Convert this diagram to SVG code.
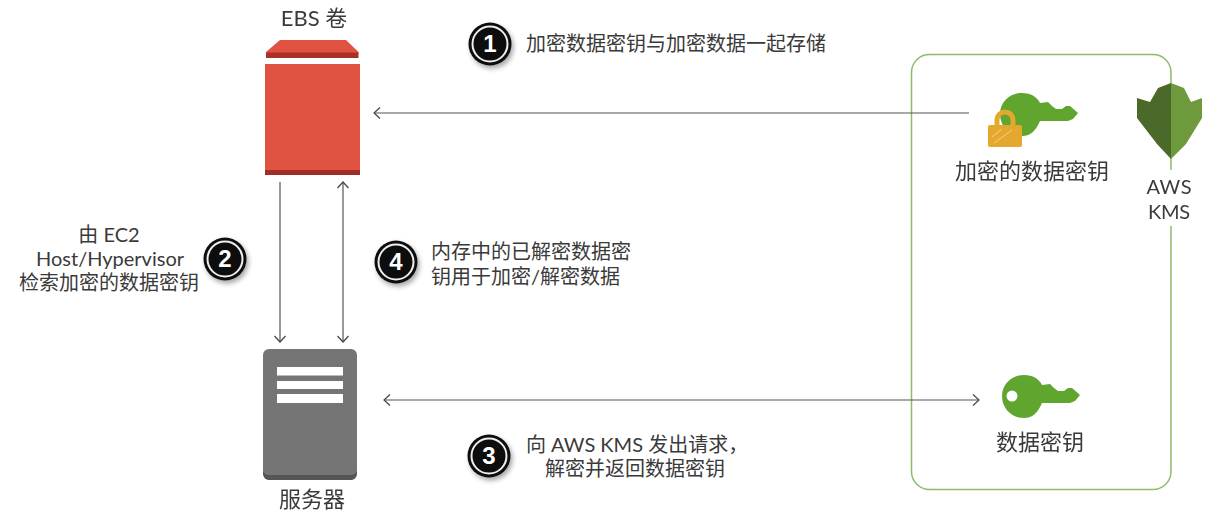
<svg xmlns="http://www.w3.org/2000/svg" width="1231" height="518" viewBox="0 0 1231 518">
<defs>
<marker id="arr" markerWidth="14" markerHeight="14" refX="13" refY="6" orient="auto-start-reverse" markerUnits="userSpaceOnUse"><path d="M7 0.5L13 6L7 11.5" fill="none" stroke="#444" stroke-width="1.2"/></marker>
<filter id="sh" x="-30%" y="-30%" width="170%" height="170%"><feDropShadow dx="2" dy="3" stdDeviation="2.5" flood-color="#000" flood-opacity=".35"/></filter>
<filter id="b" x="-5%" y="-5%" width="110%" height="110%"><feGaussianBlur stdDeviation=".5"/></filter>
<path id="key" d="M0-21C9-21 15-17 18-11L26-12L30-8L34-5L40-5L44-8L48-8L56-1L51 5L46 7L18 7C14 16 9 22 0 22C-13 22-22 12-22 0C-22-12-12-21 0-21Z"/>
<g id="badge"><circle r="21.500" fill="#111" filter="url(#sh)"/><circle r="17.500" fill="none" stroke="#eee" stroke-width="2"/></g>
</defs>
<style>
text{font-family:Lato,"Noto Sans CJK SC",sans-serif;fill:#3a3a3a;font-size:20px}
.m{text-anchor:middle}
.big{font-size:22px}
.n{font-family:"Liberation Sans",sans-serif;font-weight:700;font-size:24px;fill:#fff;text-anchor:middle}
.l{fill:none;stroke:#555;stroke-width:1.200}
</style>
<rect width="1231" height="518" fill="#fff"/>
<g id="kms-boundary"><rect x="911.500" y="54.500" width="259.500" height="435" rx="18" fill="none" stroke="#8fbc6a" stroke-width="1.500"/><rect x="1150" y="170" width="40" height="56" fill="#fff"/></g>
<g id="connectors">
<path class="l" d="M969 113H374" marker-end="url(#arr)"/>
<path class="l" d="M280 182V342" marker-end="url(#arr)"/>
<path class="l" d="M343 182V342" marker-start="url(#arr)" marker-end="url(#arr)"/>
<path class="l" d="M384 400H979" marker-start="url(#arr)" marker-end="url(#arr)"/>
</g>
<g id="ebs" filter="url(#b)">
<path d="M266 52L280 40H346L358.500 52V54H266Z" fill="#e05243"/><path d="M266 52.500H358.500V58H266Z" fill="#a93228"/>
<rect x="265" y="64" width="95" height="111" fill="#e05243"/><rect x="265" y="170" width="95" height="5" fill="#9f2f25"/>
<text class="m big" x="314" y="26">EBS 卷</text>
</g>
<g id="server" filter="url(#b)">
<rect x="263" y="349" width="94" height="131" rx="6" fill="#757575"/>
<path d="M263 472C263 477 266 480 270 480H350C354 480 357 477 357 472V470C357 473 354 475 350 475H270C266 475 263 473 263 470Z" fill="#555"/>
<rect x="277" y="367" width="66" height="8.500" fill="#fff"/><rect x="277" y="381" width="66" height="8" fill="#fff"/><rect x="277" y="394" width="66" height="9" fill="#fff"/>
<text class="m big" x="312" y="507">服务器</text>
</g>
<g id="encrypted-key" filter="url(#b)">
<use href="#key" x="1022" y="114" fill="#5fa52e"/>
<path d="M997 127V120A8 8 0 0 1 1013 120V127" fill="none" stroke="#e5a82f" stroke-width="5"/>
<rect x="988" y="125" width="34" height="22" rx="2" fill="#e5a82f"/>
<path d="M992 137L1002 129M994 143L1012 130" stroke="#f0c060" stroke-width="1.500" fill="none"/>
<text class="m big" x="1032" y="179">加密的数据密钥</text>
</g>
<g id="aws-kms" filter="url(#b)">
<path d="M1171 83L1158 88L1150 102L1137 98V118L1157 144L1171 159Z" fill="#4b6b2a"/>
<path d="M1171 83L1184 88L1191 102L1202 98V118L1186 144L1171 159Z" fill="#6e9a3c"/>
<text class="m" x="1169" y="194" textLength="45">AWS</text><text class="m" x="1169" y="219" textLength="42">KMS</text>
</g>
<g id="data-key" filter="url(#b)">
<use href="#key" x="1024" y="396" fill="#5fa52e"/>
<circle cx="1012" cy="396" r="5.500" fill="#fff"/>
<text class="m big" x="1040" y="450">数据密钥</text>
</g>
<g id="step1"><use href="#badge" x="490" y="44"/><text class="n" x="490" y="52">1</text><text x="526" y="51">加密数据密钥与加密数据一起存储</text></g>
<g id="step2"><use href="#badge" x="225" y="259"/><text class="n" x="225" y="267">2</text><text class="m" x="109" y="242">由 EC2</text><text class="m" x="110" y="266" textLength="148">Host/Hypervisor</text><text class="m" x="109" y="290">检索加密的数据密钥</text></g>
<g id="step3"><use href="#badge" x="489" y="456"/><text class="n" x="489" y="464">3</text><text x="526" y="452">向 AWS KMS 发出请求，</text><text x="545" y="476">解密并返回数据密钥</text></g>
<g id="step4"><use href="#badge" x="396" y="262"/><text class="n" x="396" y="270">4</text><text x="431" y="259">内存中的已解密数据密</text><text x="431" y="284">钥用于加密/解密数据</text></g>
</svg>
